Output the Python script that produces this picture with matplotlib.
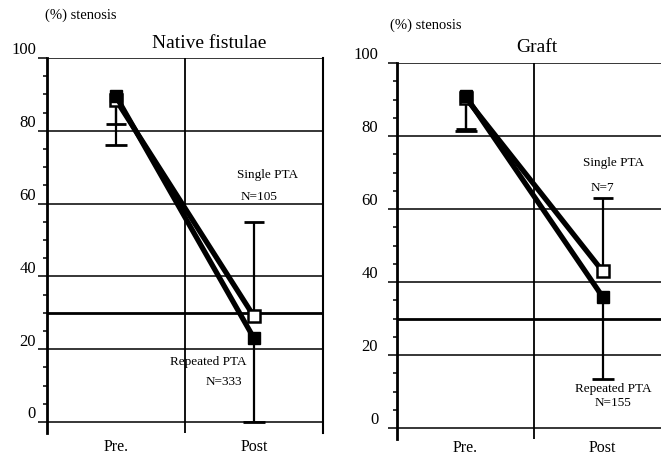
import matplotlib.pyplot as plt
from matplotlib.transforms import ScaledTranslation

plt.rcParams["font.family"] = ["Liberation Serif", "DejaVu Serif"]

# data
categories = ["Pre.", "Post"]
yticks = [0, 20, 40, 60, 80, 100]

native_single = [88.5, 29]
native_single_err_lo = [6.5, 0]
native_single_err_hi = [0, 26]
native_repeated = [89.5, 23]
native_repeated_err_lo = [13.5, 23]
native_repeated_err_hi = [0, 0]

graft_single = [90.5, 43]
graft_single_err_lo = [8.5, 0]
graft_single_err_hi = [0, 20]
graft_repeated = [91, 36]
graft_repeated_err_lo = [9.5, 22.5]
graft_repeated_err_hi = [0, 0]

cutoff = 30

W, H = 661, 457
fig = plt.figure(figsize=(W / 100, H / 100), dpi=100)


def px_axes(x0, x1, ytop, ybot):
    return fig.add_axes([x0 / W, 1 - ybot / H, (x1 - x0) / W, (ybot - ytop) / H])


def one_sided_bars(ax, xs, ys, lo, hi, cap):
    # only the drawn side of each error bar gets a cap
    for x, y, l, h in zip(xs, ys, lo, hi):
        ax.vlines(x, y - l, y + h, color="black", lw=1.6, zorder=2)
        for end, d in ((y - l, l), (y + h, h)):
            if d > 0:
                ax.plot([x], [end], marker="_", markersize=cap,
                        markeredgewidth=2.0, color="black", zorder=2)


def panel(ax, single, s_lo, s_hi, rep, r_lo, r_hi, label_pad, xpad,
          right_spine=True):
    xs = [0.5, 1.5]
    ax.set_xlim(0, 2)
    ax.set_ylim(-3, 100)
    for v in yticks:
        ax.axhline(v, color="black", lw=1.1, zorder=1)
    ax.axhline(cutoff, color="black", lw=2.0, zorder=1)
    ax.axvline(1, color="black", lw=1.3, zorder=1)

    one_sided_bars(ax, xs, rep, r_lo, r_hi, 16)
    one_sided_bars(ax, xs, single, s_lo, s_hi, 14)
    ax.plot(xs, single, color="black", lw=3.8, marker="s", markersize=9,
            markerfacecolor="white", markeredgecolor="black",
            markeredgewidth=1.8, zorder=3)
    ax.plot(xs, rep, color="black", lw=3.8, marker="s", markersize=9,
            markerfacecolor="black", markeredgecolor="black", zorder=4)

    for s in ["top", "bottom"]:
        ax.spines[s].set_visible(False)
    ax.spines["left"].set_linewidth(2.0)
    ax.spines["right"].set_linewidth(1.5)
    ax.spines["right"].set_visible(right_spine)

    ax.set_yticks(yticks)
    ax.set_yticks(range(0, 101, 5), minor=True)
    ax.tick_params(axis="y", which="major", length=6.5, width=1.1,
                   pad=label_pad, labelsize=12)
    ax.tick_params(axis="y", which="minor", length=3, width=1.1)
    for lab in ax.get_yticklabels():
        lab.set_transform(lab.get_transform()
                          + ScaledTranslation(0, 7 / 72, fig.dpi_scale_trans))

    ax.set_xticks(xs)
    ax.set_xticklabels(categories, fontsize=11.5)
    ax.tick_params(axis="x", length=0, pad=xpad)


ax1 = px_axes(47, 323, 58, 433)
panel(ax1, native_single, native_single_err_lo, native_single_err_hi,
      native_repeated, native_repeated_err_lo, native_repeated_err_hi, 1.5, 4)
ax1.text(1.60, 67.9, "Single PTA", ha="center", va="center", fontsize=9.5)
ax1.text(1.54, 61.8, "N=105", ha="center", va="center", fontsize=9.5)
ax1.text(1.17, 16.5, "Repeated PTA", ha="center", va="center", fontsize=9.5)
ax1.text(1.28, 11.0, "N=333", ha="center", va="center", fontsize=9.5)

ax2 = px_axes(397, 671, 63, 439)
panel(ax2, graft_single, graft_single_err_lo, graft_single_err_hi,
      graft_repeated, graft_repeated_err_lo, graft_repeated_err_hi, 7, 1,
      right_spine=False)
ax2.text(1.58, 72.6, "Single PTA", ha="center", va="center", fontsize=9.5)
ax2.text(1.50, 65.8, "N=7", ha="center", va="center", fontsize=9.5)
ax2.text(1.58, 10.7, "Repeated PTA", ha="center", va="center", fontsize=9.5)
ax2.text(1.58, 6.8, "N=155", ha="center", va="center", fontsize=9.5)

fig.text(209 / W, 1 - 43 / H, "Native fistulae", ha="center", va="center",
         fontsize=14)
fig.text(537 / W, 1 - 47 / H, "Graft", ha="center", va="center", fontsize=14)
fig.text(45 / W, 1 - 15 / H, "(%) stenosis", ha="left", va="center",
         fontsize=10.5)
fig.text(390 / W, 1 - 25 / H, "(%) stenosis", ha="left", va="center",
         fontsize=10.5)

fig.savefig("out.png", dpi=100)
